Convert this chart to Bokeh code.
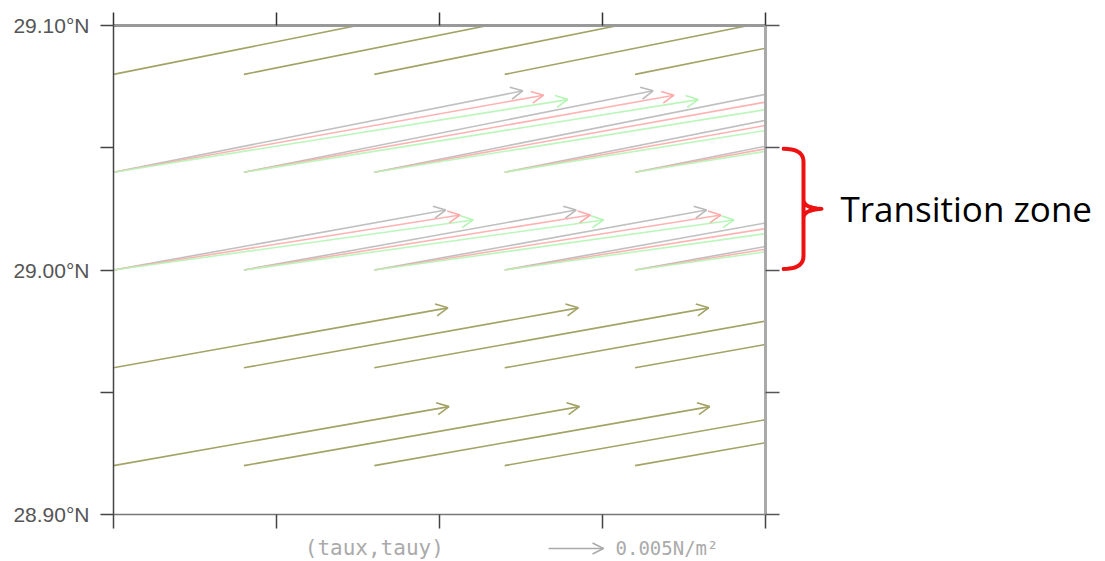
import numpy as np
from bokeh.plotting import figure
from bokeh.layouts import row, column
from bokeh.models import (ColumnDataSource, Arrow, OpenHead, Label, LinearAxis,
                          FixedTicker, CustomJSTickFormatter, Range1d)
from bokeh.core.properties import value
from bokeh.embed import file_html
from bokeh.resources import INLINE

# ---------------- data ----------------
grid_x = [0, 1, 2, 3, 4]                       # vector tail columns (grid units)
row_lat = [29.08, 29.04, 29.00, 28.96, 28.92]  # vector tail rows (deg N)
# wind stress (N/m^2) per row for three overlaid experiments
taux_gray  = [0.0364, 0.0372, 0.0302, 0.0304, 0.0305]
tauy_gray  = [0.0073, 0.0074, 0.00545, 0.00545, 0.00536]
taux_pink  = [0.0364, 0.0391, 0.0315, 0.0304, 0.0305]
tauy_pink  = [0.0073, 0.0070, 0.0050, 0.00545, 0.00536]
taux_green = [0.0364, 0.0413, 0.0327, 0.0304, 0.0305]
tauy_green = [0.0073, 0.0066, 0.00455, 0.00545, 0.00536]
lat_ticks = [28.90, 28.95, 29.00, 29.05, 29.10]
x_ticks = [0, 1.25, 2.5, 3.75, 5]
ref_mag = 0.005
ref_text = "0.005N/m²"
vec_text = "(taux,tauy)"
transition_zone = (29.00, 29.05)
zone_text = "Transition zone"

# ---------------- layout ----------------
FL, FT, FW, FH = 113, 25, 652, 489
MR, MB = 16, 16
MAIN_W, MAIN_H = FL + FW + MR, FT + FH + MB
CAP_H = 561 - MAIN_H
RIGHT_W = 1105 - MAIN_W
X0, X1, Y0, Y1 = 0, 5, 28.90, 29.10
pxx = FW / (X1 - X0)
pxy = FH / (Y1 - Y0)
PX_PER_TAU = 11000.0

def base_fig(**kw):
    f = figure(output_backend="svg", toolbar_location=None,
               x_axis_location=None, y_axis_location=None, **kw)
    f.outline_line_color = None
    f.background_fill_color = "white"
    f.border_fill_color = "white"
    f.grid.visible = False
    return f

p = base_fig(width=MAIN_W, height=MAIN_H, x_range=Range1d(X0, X1),
             y_range=Range1d(Y0, Y1), min_border_left=FL, min_border_top=FT,
             min_border_right=MR, min_border_bottom=MB)

lat_fmt = CustomJSTickFormatter(code="""
return (Math.abs(tick*10 - Math.round(tick*10)) < 1e-6) ? tick.toFixed(2) + '°N' : '';
""")
blank = CustomJSTickFormatter(code="return '';")

def mk_axis(ticker, fmt, line_color, line_width, tick_color, tout, labels=False):
    ax = LinearAxis(ticker=FixedTicker(ticks=ticker), formatter=fmt)
    ax.axis_line_color = line_color
    ax.axis_line_width = line_width
    ax.major_tick_line_color = tick_color
    ax.major_tick_line_width = 1.5
    ax.major_tick_out = tout
    ax.major_tick_in = 0
    ax.minor_tick_line_color = None
    if labels:
        ax.major_label_text_font = "Liberation Sans"
        ax.major_label_text_font_size = "21px"
        ax.major_label_text_color = "#555555"
        ax.major_label_standoff = 11
    else:
        ax.major_label_text_font_size = "0px"
        ax.major_label_standoff = 0
    return ax

p.add_layout(mk_axis(lat_ticks, lat_fmt, "#444444", 1.5, "#444444", 13, True), "left")
p.add_layout(mk_axis(lat_ticks, blank, "#aaaaaa", 3, "#555555", 14), "right")
p.add_layout(mk_axis(x_ticks, blank, "#999999", 3, "#333333", 13), "above")
p.add_layout(mk_axis(x_ticks, blank, "#777777", 1.5, "#444444", 14), "below")

OLIVE = "#a3a366"
sets = [("#b9b9b9", taux_gray, tauy_gray), ("#ffaaaa", taux_pink, tauy_pink),
        ("#b4f5b4", taux_green, tauy_green)]

def vectors(rows, tx, ty):
    xs, ys, xe, ye = [], [], [], []
    for r in rows:
        for gx in grid_x:
            xs.append(gx); ys.append(row_lat[r])
            xe.append(gx + tx[r] * PX_PER_TAU / pxx)
            ye.append(row_lat[r] + ty[r] * PX_PER_TAU / pxy)
    return dict(x0=xs, y0=ys, x1=xe, y1=ye)

same_rows = [i for i in range(len(row_lat))
             if taux_gray[i] == taux_pink[i] == taux_green[i]
             and tauy_gray[i] == tauy_pink[i] == tauy_green[i]]
diff_rows = [i for i in range(len(row_lat)) if i not in same_rows]

groups = [(c, vectors(diff_rows, tx, ty), 0.9) for c, tx, ty in sets]
groups.append((OLIVE, vectors(same_rows, taux_gray, tauy_gray), 1.0))

for color, d, a in groups:
    src = ColumnDataSource(d)
    p.segment("x0", "y0", "x1", "y1", source=src, line_color=color,
              line_width=1.6, line_alpha=a)
    inside = [i for i in range(len(d["x1"]))
              if X0 <= d["x1"][i] <= X1 and Y0 <= d["y1"][i] <= Y1]
    hsrc = ColumnDataSource({k: [v[i] for i in inside] for k, v in d.items()})
    p.add_layout(Arrow(end=OpenHead(size=12, line_color=color, line_width=1.6),
                       x_start="x0", y_start="y0", x_end="x1", y_end="y1",
                       source=hsrc, line_color=None))

# ---------------- caption strip below the plot ----------------
cap = base_fig(width=MAIN_W, height=CAP_H, x_range=p.x_range,
               y_range=Range1d(0, CAP_H), min_border_left=FL, min_border_right=MR,
               min_border_top=0, min_border_bottom=0)
cap_y = CAP_H - 17
ref_x0 = 3.336
ref_src = ColumnDataSource(dict(x0=[ref_x0], y0=[cap_y - 1],
                                x1=[ref_x0 + ref_mag * PX_PER_TAU / pxx], y1=[cap_y - 1]))
cap.segment("x0", "y0", "x1", "y1", source=ref_src, line_color="#aaaaaa", line_width=1.5)
cap.add_layout(Arrow(end=OpenHead(size=11, line_color="#aaaaaa", line_width=1.5),
                     x_start="x0", y_start="y0", x_end="x1", y_end="y1",
                     source=ref_src, line_color=None))
cap.add_layout(Label(x=2.0, y=cap_y, text=vec_text, text_align="center",
                     text_baseline="middle", text_font="DejaVu Sans Mono",
                     text_font_size="21px", text_color="#aaaaaa"))
cap.add_layout(Label(x=3.85, y=cap_y, text=ref_text, text_align="left",
                     text_baseline="middle", text_font="DejaVu Sans Mono",
                     text_font_size="19px", text_color="#aaaaaa"))

# ---------------- transition-zone bracket (right strip) ----------------
rf = base_fig(width=RIGHT_W, height=MAIN_H, x_range=Range1d(0, RIGHT_W),
              y_range=p.y_range, min_border_left=0, min_border_right=0,
              min_border_top=FT, min_border_bottom=MB)

def bez(p0, p1, p2, n=10):
    t = np.linspace(0, 1, n)
    return [((1-u)**2*p0[0] + 2*(1-u)*u*p1[0] + u**2*p2[0],
             (1-u)**2*p0[1] + 2*(1-u)*u*p1[1] + u**2*p2[1]) for u in t]

ztop, zbot = transition_zone[1], transition_zone[0]
zmid = 0.5 * (ztop + zbot)
def P(xpx, y_lat, dy_px=0.0):
    return (xpx, y_lat - dy_px / pxy)
XT, XV, XC = 2, 22, 40
pts = []
pts += bez(P(XT, ztop, 1), P(XV, ztop, 1), P(XV, ztop, 14))
pts += bez(P(XV, zmid, 9), P(XV, zmid, 1), P(XC, zmid, 0), 8)
pts = pts[:len(pts)]
pts2 = bez(P(XC, zmid, 0), P(XV, zmid, -1), P(XV, zmid, -9), 8)
pts2 += bez(P(XV, zbot, -14), P(XV, zbot, -1), P(XT, zbot, -1))
allpts = pts + pts2
rf.line([a[0] for a in allpts], [a[1] for a in allpts], line_color="#ee1111",
        line_width=4, line_join="round", line_cap="round")
rf.add_layout(Label(x=XC + 19, y=zmid, text=zone_text, text_align="left",
                    text_baseline="middle", text_font="Open Sans",
                    text_font_size="35px", text_color="black"))

layout = row(column(p, cap), rf)
open("out.html", "w").write(file_html(layout, INLINE))
